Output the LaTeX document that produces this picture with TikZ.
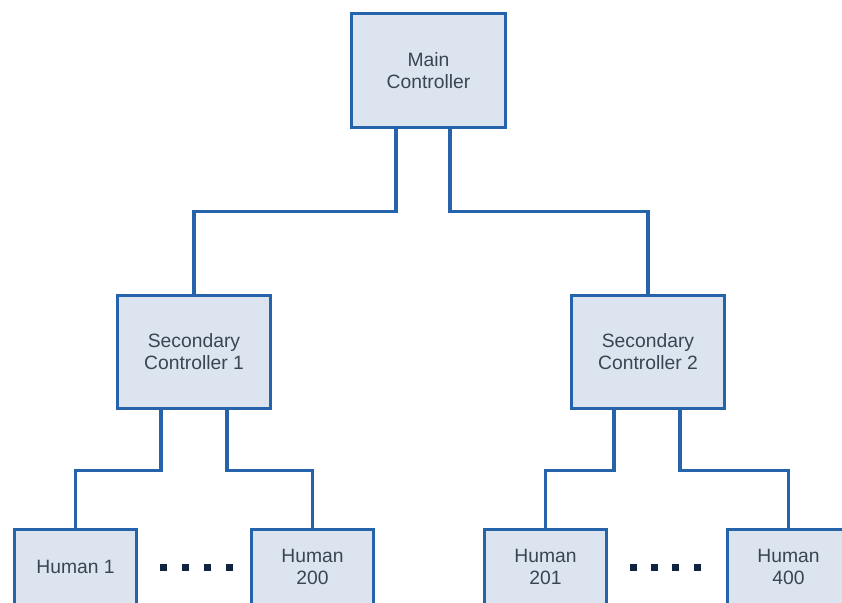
\documentclass[tikz,border=0pt]{standalone}
\usepackage{fontspec}
\setmainfont{Liberation Sans}
\definecolor{boxline}{HTML}{2563AA}
\definecolor{boxfill}{HTML}{DCE4EF}
\definecolor{boxtext}{HTML}{3A4553}
\definecolor{dotcol}{HTML}{0F2440}
\tikzset{
  ctrlbox/.style={draw=boxline, fill=boxfill, line width=3bp, inner sep=0pt,
    minimum width=154bp, minimum height=114bp, align=center,
    text=boxtext, font=\fontsize{19.3bp}{22bp}\selectfont},
  humanbox/.style={ctrlbox, minimum width=122bp, minimum height=76bp},
  link/.style={draw=boxline, line width=3.2bp},
  gapdot/.style={fill=dotcol}
}
\begin{document}
\begin{tikzpicture}[x=1bp, y=-1bp]
  \clip (0,0) rectangle (842,603);
  \fill[white] (0,0) rectangle (842,603);

  % controllers
  \node[ctrlbox] (main) at (428.5,70.5) {Main\\Controller};
  \node[ctrlbox, minimum width=153bp, minimum height=113bp] (sec1) at (194,352) {Secondary\\Controller 1};
  \node[ctrlbox, minimum width=153bp, minimum height=113bp] (sec2) at (648,352) {Secondary\\Controller 2};

  % humans
  \node[humanbox] (h1)   at (75.5,567)  {Human 1};
  \node[humanbox] (h200) at (312.5,567) {Human\\200};
  \node[humanbox] (h201) at (545.5,567) {Human\\201};
  \node[humanbox] (h400) at (788.5,567) {Human\\400};

  % links from the main controller
  \draw[link] ([xshift=-32.5bp]main.south) -- ++(0,82.5) -| (sec1.north);
  \draw[link] ([xshift=21.5bp]main.south) -- ++(0,82.5) -| (sec2.north);

  % links from the secondary controllers
  \draw[link] ([xshift=-33bp]sec1.south) -- ++(0,60.5) -| (h1.north);
  \draw[link] ([xshift=33bp]sec1.south) -- ++(0,60.5) -| (h200.north);
  \draw[link] ([xshift=-34bp]sec2.south) -- ++(0,60.5) -| (h201.north);
  \draw[link] ([xshift=32bp]sec2.south) -- ++(0,60.5) -| (h400.north);

  % ellipsis dots between the human boxes
  \foreach \dx in {163,185,207,229} {
    \fill[gapdot] (\dx-3.5,563.5) rectangle (\dx+3.5,570.5);
  }
  \foreach \dx in {633,654,675,697} {
    \fill[gapdot] (\dx-3.5,563.5) rectangle (\dx+3.5,570.5);
  }
\end{tikzpicture}
\end{document}
